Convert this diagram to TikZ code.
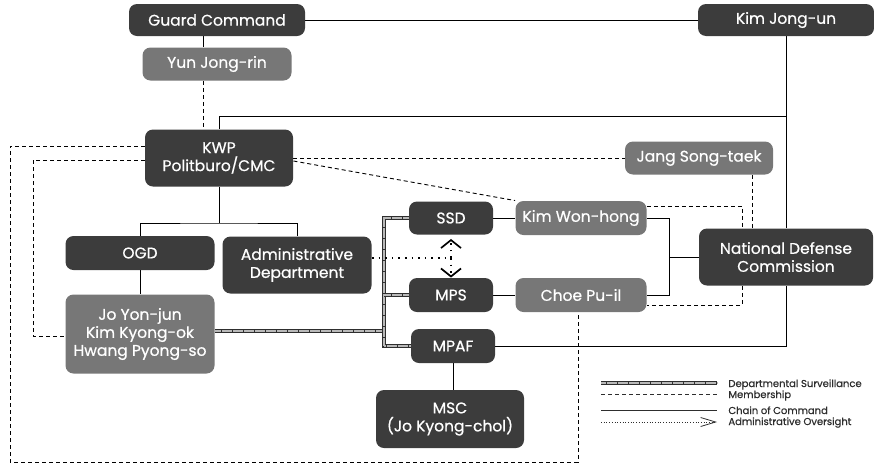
\documentclass[tikz,border=0pt]{standalone}
\usepackage{fontspec}
\setmainfont{Poppins}
\newfontfamily\boitefont{Poppins}[FakeBold=0.6]
\usetikzlibrary{arrows.meta,backgrounds}
\definecolor{fonce}{HTML}{3C3C3C}
\definecolor{moyen}{HTML}{777777}
\definecolor{trait}{HTML}{2E2E2E}
\tikzset{taille/.style 2 args={minimum width=#1pt,minimum height=#2pt}}
\tikzset{sombre/.style={rounded corners=8pt,fill=fonce,text=white,inner sep=0pt,
    align=center,font=\boitefont\fontsize{15.5}{18}\selectfont}}
\tikzset{gris/.style={sombre,fill=moyen}}
\tikzset{membre/.style={line width=0.9pt,dash pattern=on 4pt off 3pt}}
\tikzset{surveil/.style={preaction={draw,trait,line width=4.2pt,solid},
    draw=gray!55,line width=2.6pt,dash pattern=on 0.5pt off 0.6pt}}
\tikzset{admin/.style={line width=1.6pt,dash pattern=on 1.6pt off 5pt}}
\tikzset{pointe/.style={-{Straight Barb[length=8pt,width=20pt,line width=1.7pt]}}}
\tikzset{legende/.style={anchor=base west,inner sep=0pt,text=trait,
    font=\boitefont\fontsize{10}{12}\selectfont}}

\begin{document}
\begin{tikzpicture}[x=1pt,y=-1pt,line width=0.9pt,color=trait]
  \useasboundingbox (0,0) rectangle (874,464);
  % boites du haut
  \node[sombre,taille={176}{32}] (garde) at (217,20) {Guard Command};
  \node[sombre,taille={176}{32}] (kim) at (786,20) {Kim Jong-un};
  \node[gris,taille={149}{33}] (yun) at (217,64) {Yun Jong-rin};
  \node[sombre,taille={148}{57}] (kwp) at (219,158) {KWP\\Politburo/CMC};
  \node[gris,taille={148}{33}] (jang) at (699,158) {Jang Song-taek};
  % parti
  \node[sombre,taille={149}{34}] (ogd) at (140,253) {OGD};
  \node[sombre,taille={149}{57}] (adm) at (297,265) {Administrative\\Department};
  \node[gris,taille={149}{79}] (jo) at (140,334) {Jo Yon-jun\\Kim Kyong-ok\\Hwang Pyong-so};
  % securite
  \node[sombre,taille={84}{33}] (ssd) at (451,218) {SSD};
  \node[gris,taille={131}{34}] (kwh) at (581,218) {Kim Won-hong};
  \node[sombre,taille={84}{34}] (mps) at (451,295) {MPS};
  \node[gris,taille={131}{34}] (choe) at (581,295) {Choe Pu-il};
  \node[sombre,taille={84}{34}] (mpaf) at (453,346) {MPAF};
  \node[sombre,taille={148}{58}] (msc) at (450,419) {MSC\\(Jo Kyong-chol)};
  \node[sombre,taille={174}{57}] (ndc) at (786,257) {National Defense\\Commission};
  % legende
  \node[legende] (l1) at (728,387) {Departmental Surveillance};
  \node[legende] (l2) at (728,398) {Membership};
  \node[legende] (l3) at (728,414) {Chain of Command};
  \node[legende] (l4) at (728,425) {Administrative Oversight};
  \coordinate (g1) at (601,383);
  \coordinate (g2) at (601,394);
  \coordinate (g3) at (601,410);
  \coordinate (g4) at (601,422);

  \begin{pgfonlayer}{background}
    % commandement
    \draw (garde) -- (kim);
    \draw ([xshift=-14pt]garde.south) -- ([xshift=-14pt]yun.north);
    \draw (kwp.north) |- (kim.south |- 0,116);
    \draw (kim) -- (ndc);
    \coordinate (j1) at (219,223);
    \draw (kwp) -- (j1);
    \draw (ogd) |- (j1) -| (adm);
    \draw (ogd) -- (jo);
    \draw (ssd) -- (kwh);
    \draw (mps) -- (choe);
    \coordinate (j2) at (669,257);
    \draw (kwh) -| (j2) |- (choe);
    \draw (j2) -- (ndc);
    \draw (mpaf) -| (ndc);
    \draw (mpaf) -- (mpaf |- msc.north);
    % appartenance
    \draw[membre] (yun.south -| 203,0) -- (kwp.north -| 203,0);
    \draw[membre] (kwp.west |- 0,146) -| (10,462) -| ([xshift=-3pt]choe.south);
    \draw[membre] (kwp.west |- 0,160) -| (33,336) -- (jo.west |- 0,336);
    \draw[membre] (kwp) -- (jang);
    \draw[membre] (kwp.east |- 0,161) -- (kwh.north west);
    \draw[membre] (jang.south -| 752,0) -- (ndc.north -| 752,0);
    \draw[membre] (kwh.east |- 0,206) -| (742,305) -- (choe.east |- 0,305);
    % surveillance
    \coordinate (sv) at (384,331);
    \draw[surveil] (jo.east |- sv) -- (sv);
    \draw[surveil] (ssd.west) -| (sv |- mpaf.west) -- (mpaf.west);
    \draw[surveil] (mps.west) -- (sv |- mps.west);
    % tutelle administrative
    \coordinate (ao) at (451,258);
    \draw[admin] (adm.east |- ao) -- (ao);
    \draw[admin,pointe] (ao) -- ([yshift=-4pt]ssd.south);
    \draw[admin,pointe] (ao) -- (mps.north);
  \end{pgfonlayer}

  % legende
  \draw[surveil] (g1) -- ++(116,0);
  \draw[membre] (g2) -- ++(116,0);
  \draw (g3) -- ++(116,0);
  \draw[line width=0.7pt,dash pattern=on 0.7pt off 2pt,
    -{Straight Barb[length=15pt,width=9pt,line width=0.8pt]}] (g4) -- ++(116,0);
\end{tikzpicture}
\end{document}
